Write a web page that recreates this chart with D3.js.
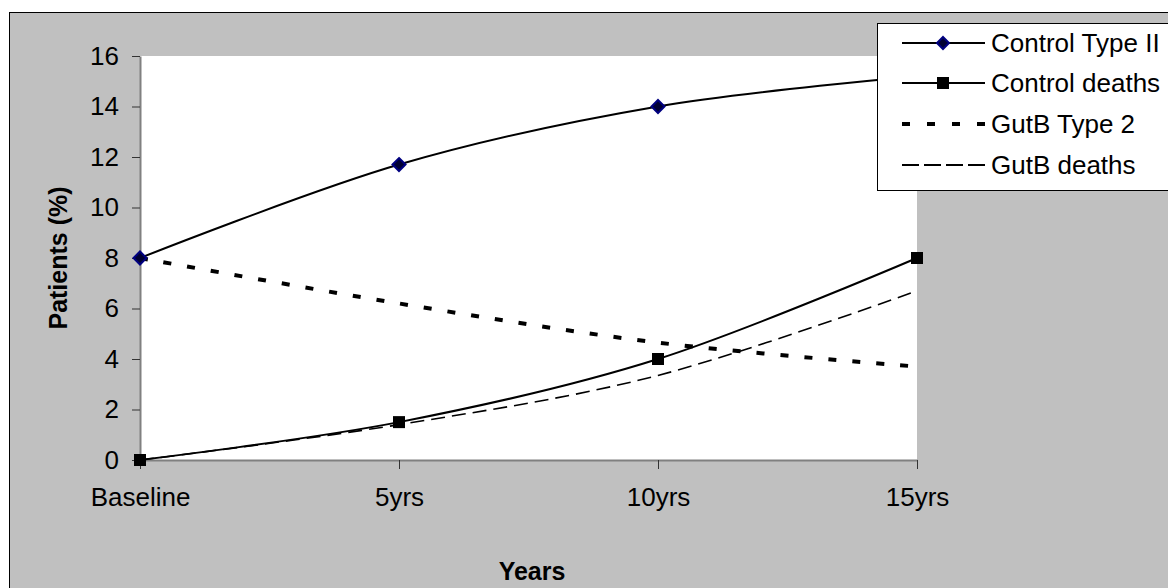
<!DOCTYPE html>
<html>
<head>
<meta charset="utf-8">
<script src="https://cdn.jsdelivr.net/npm/d3@7"></script>
<style>
  html, body { margin: 0; padding: 0; background: #ffffff; }
  svg { display: block; font-family: "Liberation Sans", Arial, sans-serif; }
</style>
</head>
<body>
<svg id="chart" width="1168" height="588"></svg>
<script>
// ---- Data ----
const categories = ["Baseline", "5yrs", "10yrs", "15yrs"];
const controlType2 = [8, 11.7, 14, 15.2];
const controlDeaths = [0, 1.5, 4, 8];
const gutbType2 = [8, 6.2, 4.65, 3.7];
const gutbDeaths = [0, 1.4, 3.35, 6.7];
const yTicks = [0, 2, 4, 6, 8, 10, 12, 14, 16];
const seriesNames = ["Control Type II", "Control deaths", "GutB Type 2", "GutB deaths"];

const svg = d3.select("#chart");

// outer chart area
svg.append("rect")
  .attr("x", 9.5).attr("y", 12.5)
  .attr("width", 1200).attr("height", 600)
  .attr("fill", "#c0c0c0").attr("stroke", "#000").attr("stroke-width", 1);

const plot = { left: 140, right: 917, top: 56, bottom: 460 };

svg.append("rect")
  .attr("x", plot.left).attr("y", plot.top)
  .attr("width", plot.right - plot.left).attr("height", plot.bottom - plot.top)
  .attr("fill", "#ffffff");

const x = d3.scalePoint().domain(categories).range([plot.left, plot.right]);
const y = d3.scaleLinear().domain([0, 16]).range([plot.bottom, plot.top]);

// axes
const yAxis = svg.append("g")
  .attr("transform", `translate(${plot.left},0)`)
  .call(d3.axisLeft(y).tickValues(yTicks).tickSize(8).tickSizeOuter(0).tickPadding(13).tickFormat(d3.format("d")));
yAxis.select(".domain").attr("stroke", "#808080").attr("stroke-width", 2);
yAxis.selectAll(".tick line").attr("stroke", "#333");
yAxis.selectAll(".tick text").attr("font-size", 26).attr("fill", "#000")
  .attr("font-family", "Liberation Sans, Arial, sans-serif");

const xAxis = svg.append("g")
  .attr("transform", `translate(0,${plot.bottom})`)
  .call(d3.axisBottom(x).tickSize(9).tickSizeOuter(0).tickPadding(20));
xAxis.select(".domain").attr("stroke", "#808080").attr("stroke-width", 2);
xAxis.selectAll(".tick line").attr("stroke", "#333");
xAxis.selectAll(".tick text").attr("font-size", 26).attr("fill", "#000")
  .attr("font-family", "Liberation Sans, Arial, sans-serif")
  .attr("dy", null).attr("y", 46);

// axis titles
svg.append("text")
  .attr("x", 532).attr("y", 580)
  .attr("text-anchor", "middle")
  .attr("font-size", 25).attr("font-weight", "bold")
  .text("Years");

svg.append("text")
  .attr("transform", `translate(67,${(plot.top + plot.bottom) / 2}) rotate(-90)`)
  .attr("text-anchor", "middle")
  .attr("font-size", 25).attr("font-weight", "bold")
  .text("Patients (%)");

// lines
const line = d3.line()
  .x((d, i) => x(categories[i]))
  .y(d => y(d))
  .curve(d3.curveCatmullRom.alpha(0));

const styles = [
  { data: controlType2, width: 2, dash: null },
  { data: controlDeaths, width: 2, dash: null },
  { data: gutbType2, width: 4, dash: "8,16" },
  { data: gutbDeaths, width: 1.6, dash: "14,7" }
];

styles.forEach(s => {
  svg.append("path")
    .attr("d", line(s.data))
    .attr("fill", "none")
    .attr("stroke", "#000")
    .attr("stroke-width", s.width)
    .attr("stroke-dasharray", s.dash);
});

// markers
const diamond = (cx, cy, r) => `M${cx},${cy - r}L${cx + r},${cy}L${cx},${cy + r}L${cx - r},${cy}Z`;

svg.append("g").selectAll("path")
  .data(controlType2)
  .join("path")
  .attr("d", (d, i) => diamond(x(categories[i]), y(d), 6.5))
  .attr("fill", "#000033")
  .attr("stroke", "#000080")
  .attr("stroke-width", 2);

svg.append("g").selectAll("rect")
  .data(controlDeaths)
  .join("rect")
  .attr("x", (d, i) => x(categories[i]) - 6)
  .attr("y", d => y(d) - 6)
  .attr("width", 12).attr("height", 12)
  .attr("fill", "#000");

// legend
const legend = svg.append("g");
legend.append("rect")
  .attr("x", 877.5).attr("y", 23.5)
  .attr("width", 320).attr("height", 167)
  .attr("fill", "#fff").attr("stroke", "#000").attr("stroke-width", 1);

const rowY = [43, 83, 124, 165];
seriesNames.forEach((name, i) => {
  const s = styles[i];
  legend.append("line")
    .attr("x1", 902).attr("x2", 985)
    .attr("y1", rowY[i]).attr("y2", rowY[i])
    .attr("stroke", "#000")
    .attr("stroke-width", s.width === 1.6 ? 2 : s.width)
    .attr("stroke-dasharray", i === 2 ? "8,17" : (i === 3 ? "17,5" : null));
  legend.append("text")
    .attr("x", 991).attr("y", rowY[i] + 9)
    .attr("font-size", 26)
    .attr("fill", "#000")
    .text(name);
});
legend.append("path")
  .attr("d", diamond(943, rowY[0], 6))
  .attr("fill", "#000033").attr("stroke", "#000080").attr("stroke-width", 2);
legend.append("rect")
  .attr("x", 937).attr("y", rowY[1] - 6)
  .attr("width", 12).attr("height", 12)
  .attr("fill", "#000");
</script>
</body>
</html>
